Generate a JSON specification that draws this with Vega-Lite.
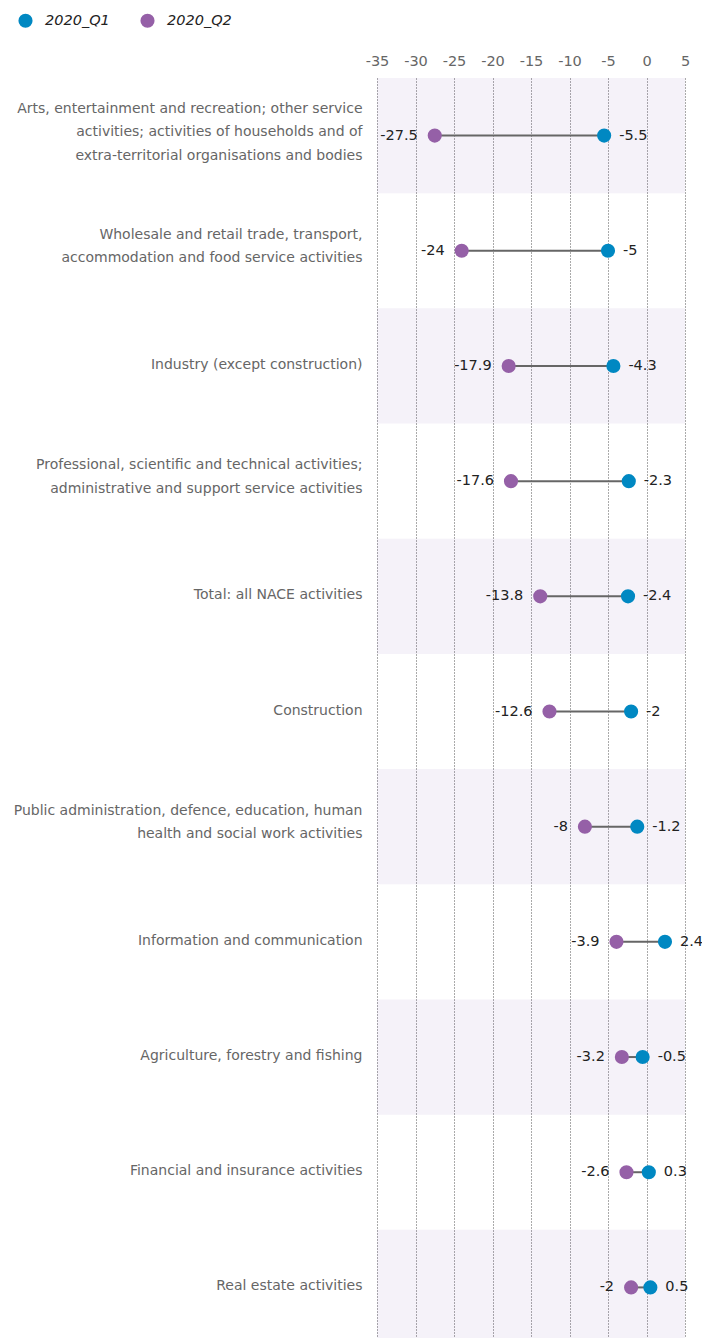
{
  "$schema": "https://vega.github.io/schema/vega-lite/v6.json",
  "width": 308,
  "height": 1267,
  "autosize": {"type": "none"},
  "padding": {"left": 377, "top": 78, "right": 17, "bottom": 0},
  "config": {
    "view": {"stroke": null},
    "font": "DejaVu Sans",
    "axisX": {
      "orient": "top",
      "grid": true,
      "gridDash": [1, 2],
      "gridColor": "#555",
      "gridWidth": 1,
      "domain": false,
      "ticks": false,
      "labelFlush": false,
      "labelPadding": 10,
      "labelFontSize": 14.5,
      "labelColor": "#666",
      "values": [-35, -30, -25, -20, -15, -10, -5, 0, 5],
      "labelExpr": "datum.value + ''",
      "title": null
    }
  },
  "data": {
    "values": [
      {"category": "Arts, entertainment and recreation; other service\nactivities; activities of households and of\nextra-territorial organisations and bodies", "2020_Q1": -5.5, "2020_Q2": -27.5},
      {"category": "Wholesale and retail trade, transport,\naccommodation and food service activities", "2020_Q1": -5, "2020_Q2": -24},
      {"category": "Industry (except construction)", "2020_Q1": -4.3, "2020_Q2": -17.9},
      {"category": "Professional, scientific and technical activities;\nadministrative and support service activities", "2020_Q1": -2.3, "2020_Q2": -17.6},
      {"category": "Total: all NACE activities", "2020_Q1": -2.4, "2020_Q2": -13.8},
      {"category": "Construction", "2020_Q1": -2, "2020_Q2": -12.6},
      {"category": "Public administration, defence, education, human\nhealth and social work activities", "2020_Q1": -1.2, "2020_Q2": -8},
      {"category": "Information and communication", "2020_Q1": 2.4, "2020_Q2": -3.9},
      {"category": "Agriculture, forestry and fishing", "2020_Q1": -0.5, "2020_Q2": -3.2},
      {"category": "Financial and insurance activities", "2020_Q1": 0.3, "2020_Q2": -2.6},
      {"category": "Real estate activities", "2020_Q1": 0.5, "2020_Q2": -2}
    ]
  },
  "encoding": {
    "y": {
      "field": "category",
      "type": "nominal",
      "sort": null,
      "scale": {"paddingInner": 0, "paddingOuter": 0},
      "axis": {
        "title": null,
        "domain": false,
        "ticks": false,
        "labelPadding": 15,
        "labelFontSize": 14,
        "labelColor": "#666",
        "labelLineHeight": 23.5,
        "labelLimit": 400,
        "labelAlign": "right",
        "labelBaseline": "middle",
        "labelOffset": {
          "condition": [
            {"test": "length(split(datum.value, '\\n')) == 3", "value": -27},
            {"test": "length(split(datum.value, '\\n')) == 2", "value": -16}
          ],
          "value": -1
        },
        "labelExpr": "split(datum.value, '\\n')"
      }
    }
  },
  "layer": [
    {
      "transform": [
        {"window": [{"op": "row_number", "as": "rn"}]}
      ],
      "mark": {"type": "rect", "color": "#7a5fb0"},
      "encoding": {
        "x": {"datum": -35, "type": "quantitative", "scale": {"domain": [-35, 5], "nice": false}, "title": null},
        "x2": {"datum": 5},
        "opacity": {"condition": {"test": "datum.rn % 2 == 1", "value": 0.08}, "value": 0}
      }
    },
    {
      "mark": {"type": "rule", "color": "#666", "strokeWidth": 2},
      "encoding": {
        "x": {"field": "2020_Q2", "type": "quantitative", "title": null},
        "x2": {"field": "2020_Q1"}
      }
    },
    {
      "transform": [{"fold": ["2020_Q1", "2020_Q2"], "as": ["period", "value"]}],
      "mark": {"type": "circle", "size": 200, "opacity": 1},
      "encoding": {
        "x": {"field": "value", "type": "quantitative", "title": null},
        "color": {
          "field": "period",
          "type": "nominal",
          "scale": {"domain": ["2020_Q1", "2020_Q2"], "range": ["#0088c2", "#9560a7"]},
          "legend": {
            "orient": "none",
            "legendX": -359,
            "legendY": -65,
            "direction": "horizontal",
            "title": null,
            "labelFontStyle": "italic",
            "labelFontSize": 14.5,
            "labelColor": "#222",
            "symbolSize": 200,
            "symbolType": "circle",
            "symbolStrokeWidth": 0,
            "columnPadding": 30,
            "labelOffset": 12,
            "padding": 0
          }
        }
      }
    },
    {
      "mark": {"type": "text", "align": "right", "baseline": "middle", "dx": -17, "fontSize": 14.5, "color": "#222"},
      "encoding": {
        "x": {"field": "2020_Q2", "type": "quantitative", "title": null},
        "text": {"field": "2020_Q2", "type": "nominal"}
      }
    },
    {
      "mark": {"type": "text", "align": "left", "baseline": "middle", "dx": 15, "fontSize": 14.5, "color": "#222"},
      "encoding": {
        "x": {"field": "2020_Q1", "type": "quantitative", "title": null},
        "text": {"field": "2020_Q1", "type": "nominal"}
      }
    }
  ]
}
